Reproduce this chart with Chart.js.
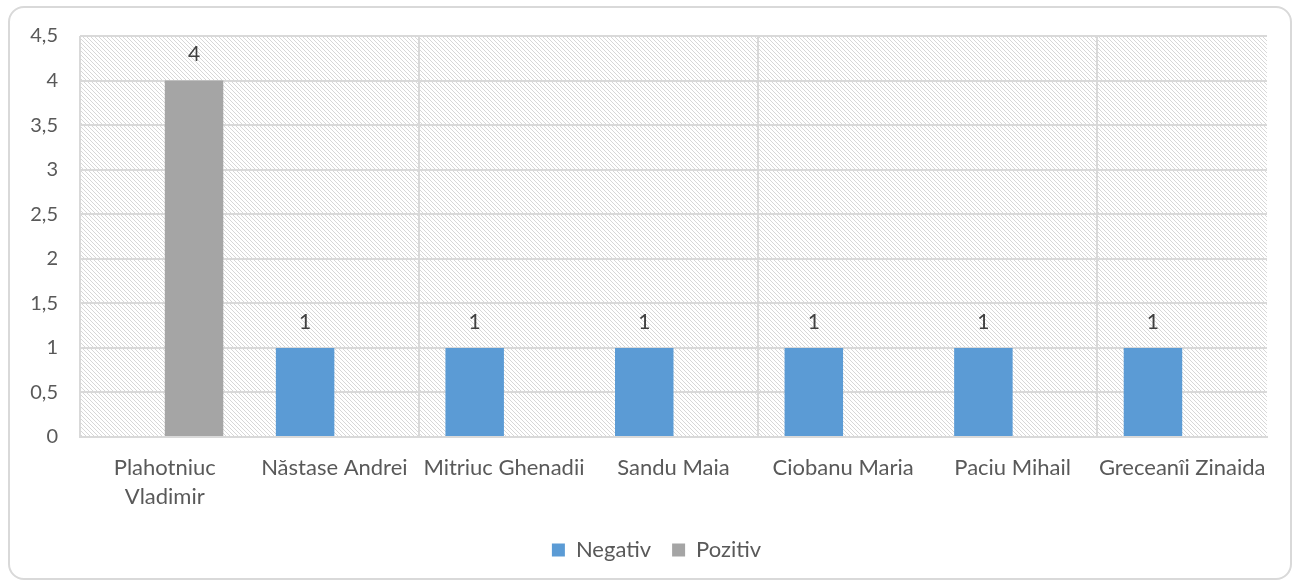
<!DOCTYPE html>
<html>
<head>
<meta charset="utf-8">
<script src="https://cdn.jsdelivr.net/npm/chart.js@4.4.1/dist/chart.umd.min.js"></script>
<style>
  body { margin: 0; background: #ffffff; }
  #card {
    position: absolute;
    left: 8px;
    top: 6px;
    width: 1280px;
    height: 570px;
    border: 2px solid #d9d9d9;
    border-radius: 16px;
    background: #ffffff;
  }
</style>
</head>
<body>
<div id="card"><canvas id="barChart"></canvas></div>
<script>
// Chart data
const categories = [
  ["Plahotniuc", "Vladimir"],
  "Năstase Andrei",
  "Mitriuc Ghenadii",
  "Sandu Maia",
  "Ciobanu Maria",
  "Paciu Mihail",
  "Greceanîi Zinaida"
];
const negativValues = [null, 1, 1, 1, 1, 1, 1];
const pozitivValues = [4, null, null, null, null, null, null];
const yTicks = [0, 0.5, 1, 1.5, 2, 2.5, 3, 3.5, 4, 4.5];

const fontFamily = "Lato, 'Open Sans', sans-serif";
const textColor = "#595959";
const gridColor = "#d9d9d9";

// Diagonal hatch used as plot area background
function makeHatch() {
  const c = document.createElement("canvas");
  c.width = 8;
  c.height = 8;
  const g = c.getContext("2d");
  const img = g.createImageData(8, 8);
  for (let y = 0; y < 8; y++) {
    for (let x = 0; x < 8; x++) {
      const i = (y * 8 + x) * 4;
      const on = ((x - y) % 4 + 4) % 4 === 0;
      const v = on ? 215 : 255;
      img.data[i] = v;
      img.data[i + 1] = v;
      img.data[i + 2] = v;
      img.data[i + 3] = 255;
    }
  }
  g.putImageData(img, 0, 0);
  return c;
}

const hatchPlugin = {
  id: "hatch",
  beforeDraw(chart) {
    const { ctx, chartArea } = chart;
    ctx.save();
    ctx.fillStyle = ctx.createPattern(makeHatch(), "repeat");
    ctx.fillRect(chartArea.left, chartArea.top, chartArea.right - chartArea.left, chartArea.bottom - chartArea.top);
    ctx.restore();
  }
};

// Value labels above the bars
const valueLabels = {
  id: "valueLabels",
  afterDatasetsDraw(chart) {
    const ctx = chart.ctx;
    ctx.save();
    ctx.font = "21px " + fontFamily;
    ctx.fillStyle = "#404040";
    ctx.textAlign = "center";
    ctx.textBaseline = "middle";
    chart.data.datasets.forEach((ds, di) => {
      const meta = chart.getDatasetMeta(di);
      meta.data.forEach((bar, i) => {
        const v = ds.data[i];
        if (v === null || v === undefined) return;
        ctx.fillText(String(v).replace(".", ","), bar.x, bar.y - 26);
      });
    });
    ctx.restore();
  }
};

// legend sits a bit right of centre in the original
const legendShift = {
  id: "legendShift",
  afterLayout(chart) {
    chart.legend.left += 18;
    chart.legend.right += 18;
  }
};

const ctx = document.getElementById("barChart").getContext("2d");
new Chart(ctx, {
  type: "bar",
  data: {
    labels: categories,
    datasets: [
      {
        label: "Negativ",
        data: negativValues,
        backgroundColor: "#5b9bd5",
        categoryPercentage: 0.69,
        barPercentage: 1
      },
      {
        label: "Pozitiv",
        data: pozitivValues,
        backgroundColor: "#a5a5a5",
        categoryPercentage: 0.69,
        barPercentage: 1
      }
    ]
  },
  options: {
    responsive: true,
    maintainAspectRatio: false,
    animation: false,
    layout: { padding: { left: 0, top: 28, right: 23, bottom: 7 } },
    plugins: {
      tooltip: { enabled: false },
      legend: {
        position: "bottom",
        labels: {
          color: textColor,
          font: { family: fontFamily, size: 22 },
          boxWidth: 13,
          boxHeight: 13,
          padding: 21
        }
      }
    },
    scales: {
      x: {
        grid: {
          offset: true,
          drawTicks: false,
          lineWidth: 2,
          color: c => (c.index % 2 === 0 ? gridColor : "rgba(0,0,0,0)")
        },
        border: { display: true, color: gridColor, width: 2 },
        ticks: {
          color: textColor,
          font: { family: fontFamily, size: 22, lineHeight: 1.33 },
          padding: 16,
          maxRotation: 0,
          autoSkip: false
        },
        afterFit: s => { s.height = 81; s.paddingLeft = 0; s.paddingRight = 0; }
      },
      y: {
        min: 0,
        max: 4.5,
        afterBuildTicks: s => { s.ticks = yTicks.map(v => ({ value: v })); },
        grid: { drawTicks: false, lineWidth: 2, color: gridColor },
        border: { display: false },
        ticks: {
          color: textColor,
          font: { family: fontFamily, size: 20 },
          padding: 22,
          callback: v => String(v).replace(".", ",")
        },
        afterFit: s => { s.width = 70; s.paddingTop = 0; s.paddingBottom = 0; }
      }
    }
  },
  plugins: [hatchPlugin, valueLabels, legendShift]
});
</script>
</body>
</html>
